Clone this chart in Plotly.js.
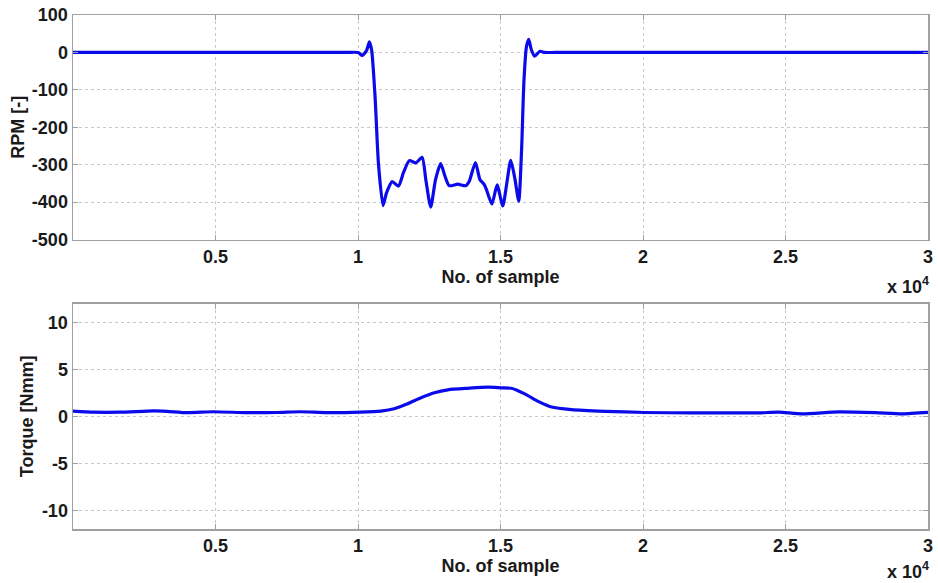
<!DOCTYPE html>
<html>
<head>
<meta charset="utf-8">
<script src="https://cdn.plot.ly/plotly-3.0.1.min.js"></script>
<style>html,body{margin:0;padding:0;background:#fff;}#chart{width:938px;height:583px;}</style>
</head>
<body>
<div id="chart"></div>
<script>
// RPM series (top panel)
const rpmX = [0,3000,6000,8500,9600,10000,10150,10300,10400,10480,10600,10720,10880,11000,11200,11420,11600,11800,12030,12250,12380,12550,12720,12900,13050,13200,13500,13780,13900,14120,14280,14420,14500,14700,14880,15080,15220,15360,15500,15640,15740,15820,15910,15990,16080,16200,16380,16550,16900,18500,21000,24000,27000,30000];
const rpmY = [0,0,0,0,0,0,-8,5,28,5,-120,-300,-409,-375,-345,-357,-320,-289,-295,-280,-340,-413,-340,-297,-330,-356,-352,-356,-345,-294,-340,-352,-365,-405,-354,-410,-350,-288,-335,-397,-260,-80,15,35,8,-10,3,0,0,0,0,0,0,0];
// Torque series (bottom panel)
const torqueX = [0,720,1660,2830,3300,4000,4940,6110,7160,7980,8920,10090,10800,11270,11740,12210,12680,13150,13850,14560,15030,15380,15850,16320,16790,17490,18660,20070,21710,24060,24760,25580,26870,28160,29100,30000];
const torqueY = [0.56,0.45,0.45,0.6,0.55,0.4,0.5,0.4,0.42,0.5,0.4,0.46,0.57,0.82,1.35,1.99,2.52,2.84,3.0,3.12,3.05,3.0,2.4,1.6,1.0,0.73,0.55,0.42,0.38,0.38,0.46,0.28,0.48,0.4,0.28,0.43];
// Tick labels
const xTickVals = [5000,10000,15000,20000,25000,30000];
const xTickText = ['0.5','1','1.5','2','2.5','3'];
const rpmTicks = [-500,-400,-300,-200,-100,0,100];
const torqueTicks = [-10,-5,0,5,10];

const font = {family:'"Liberation Sans", Arial, sans-serif', size:18, color:'#1a1a1a'};
const bold = t => '<b>' + t + '</b>';
const axisCommon = {
  showline:true, mirror:'ticks', linecolor:'#a0a0a0', linewidth:1.5,
  ticks:'inside', ticklen:5, tickcolor:'#a0a0a0',
  showgrid:true, gridcolor:'#c8c8c8', griddash:'dot', gridwidth:1,
  zeroline:false, tickfont:font
};
const lineStyle = {color:'#0a0aeb', width:3.2, shape:'spline', smoothing:0.6};

const data = [
  {x:rpmX, y:rpmY, type:'scatter', mode:'lines', line:lineStyle, xaxis:'x', yaxis:'y', hoverinfo:'skip'},
  {x:torqueX, y:torqueY, type:'scatter', mode:'lines', line:lineStyle, xaxis:'x2', yaxis:'y2', hoverinfo:'skip'}
];

const layout = {
  width:938, height:583, showlegend:false,
  paper_bgcolor:'#fff', plot_bgcolor:'#fff', font:font,
  margin:{l:73, r:10, t:15, b:54},
  xaxis: Object.assign({}, axisCommon, {domain:[0,1], range:[0,30000], anchor:'y',
    tickvals:xTickVals, ticktext:xTickText.map(bold),
    title:{text:bold('No. of sample'), font:font, standoff:0}}),
  yaxis: Object.assign({}, axisCommon, {domain:[0.563,1], range:[-500,100], anchor:'x',
    tickvals:rpmTicks, ticktext:rpmTicks.map(v=>bold(String(v))),
    title:{text:bold('RPM [-]'), font:font, standoff:2}}),
  xaxis2: Object.assign({}, axisCommon, {domain:[0,1], range:[0,30000], anchor:'y2',
    tickvals:xTickVals, ticktext:xTickText.map(bold),
    title:{text:bold('No. of sample'), font:font, standoff:0}}),
  yaxis2: Object.assign({}, axisCommon, {domain:[0,0.438], range:[-12,12], anchor:'x2',
    tickvals:torqueTicks, ticktext:torqueTicks.map(v=>bold(String(v))),
    title:{text:bold('Torque [Nmm]'), font:font, standoff:3}}),
  annotations:[
    {text:bold('x 10<sup>4</sup>'), xref:'paper', yref:'paper', x:1.0, y:0.563, xshift:3, yshift:-46, xanchor:'right', yanchor:'middle', showarrow:false, font:font},
    {text:bold('x 10<sup>4</sup>'), xref:'paper', yref:'paper', x:1.0, y:0, xshift:3, yshift:-41, xanchor:'right', yanchor:'middle', showarrow:false, font:font}
  ]
};

Plotly.newPlot('chart', data, layout, {displayModeBar:false, staticPlot:true});
</script>
</body>
</html>
